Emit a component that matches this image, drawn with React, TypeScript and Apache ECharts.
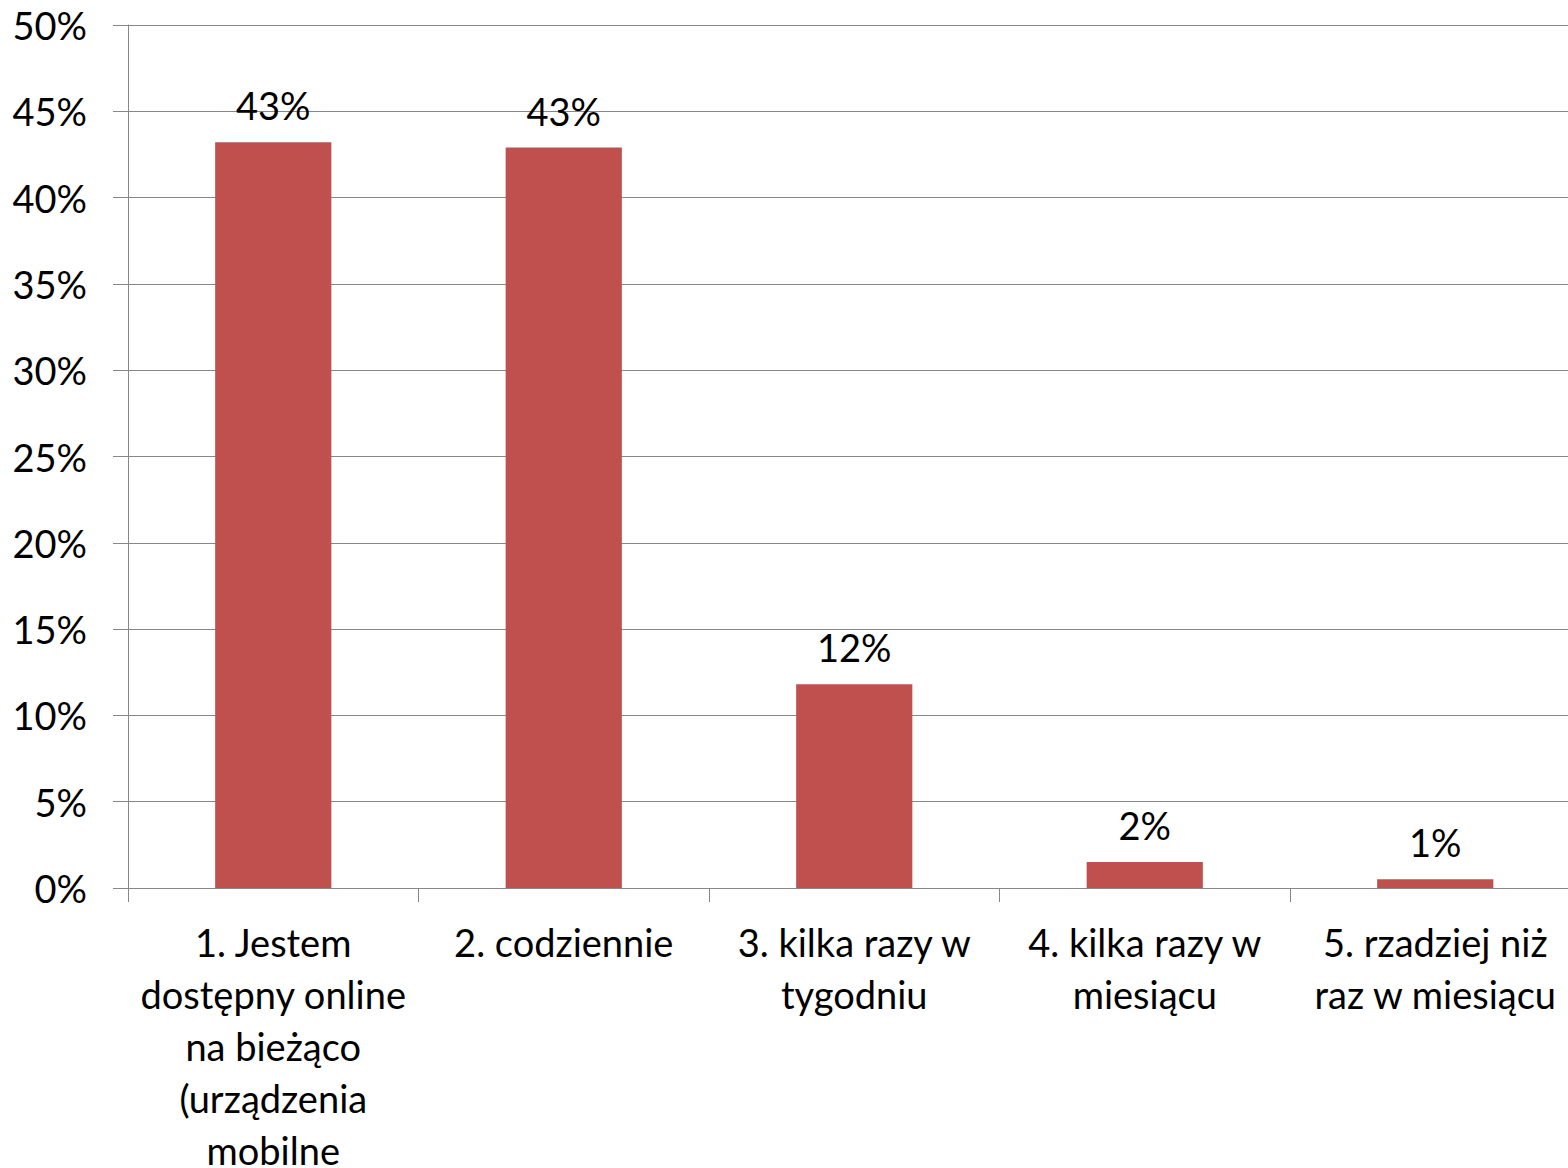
import React, { useEffect, useRef } from "react";
import * as echarts from "echarts";

const categories = [
  "1. Jestem\ndostępny online\nna bieżąco\n(urządzenia\nmobilne",
  "2. codziennie",
  "3. kilka razy w\ntygodniu",
  "4. kilka razy w\nmiesiącu",
  "5. rzadziej niż\nraz w miesiącu",
];
const values = [43.2, 42.9, 11.8, 1.5, 0.5];
const yMin = 0;
const yMax = 50;
const yStep = 5;

const FONT = "Lato";

export default function App() {
  const ref = useRef<HTMLDivElement>(null);
  useEffect(() => {
    if (!ref.current) return;
    const chart = echarts.init(ref.current, null, { renderer: "svg" });
    chart.setOption({
      animation: false,
      backgroundColor: "#ffffff",
      grid: {
        left: 128,
        top: 25,
        right: -12.5,
        bottom: 280,
        containLabel: false,
        outerBoundsMode: "none",
      },
      xAxis: {
        type: "category",
        data: categories,
        boundaryGap: true,
        axisLine: { show: true, lineStyle: { color: "#878787", width: 1 } },
        axisTick: { show: true, length: 14, alignWithLabel: false, lineStyle: { color: "#878787" } },
        axisLabel: {
          interval: 0,
          margin: 28,
          color: "#000",
          fontFamily: FONT,
          fontSize: 38,
          lineHeight: 52,
          align: "center",
        },
        splitLine: { show: false },
      },
      yAxis: {
        type: "value",
        min: yMin,
        max: yMax,
        interval: yStep,
        axisLine: { show: true, lineStyle: { color: "#878787", width: 1 } },
        axisTick: { show: true, length: 15, lineStyle: { color: "#878787" } },
        axisLabel: {
          margin: 41,
          color: "#000",
          fontFamily: FONT,
          fontSize: 38,
          formatter: (v: number) => `${v}%`,
        },
        splitLine: { show: true, lineStyle: { color: "#878787", width: 1 } },
      },
      series: [
        {
          type: "bar",
          data: values,
          barWidth: "40%",
          itemStyle: { color: "#C0504D" },
          label: {
            show: true,
            position: "top",
            distance: 17,
            color: "#000",
            fontFamily: FONT,
            fontSize: 38,
            lineHeight: 40,
            formatter: (p: any) => `${Math.round(p.value)}%`,
          },
        },
      ],
    });
    return () => chart.dispose();
  }, []);
  return (
    <div
      ref={ref}
      style={{ position: "absolute", left: 0, top: 0, width: 1568, height: 1168, background: "#fff" }}
    />
  );
}
